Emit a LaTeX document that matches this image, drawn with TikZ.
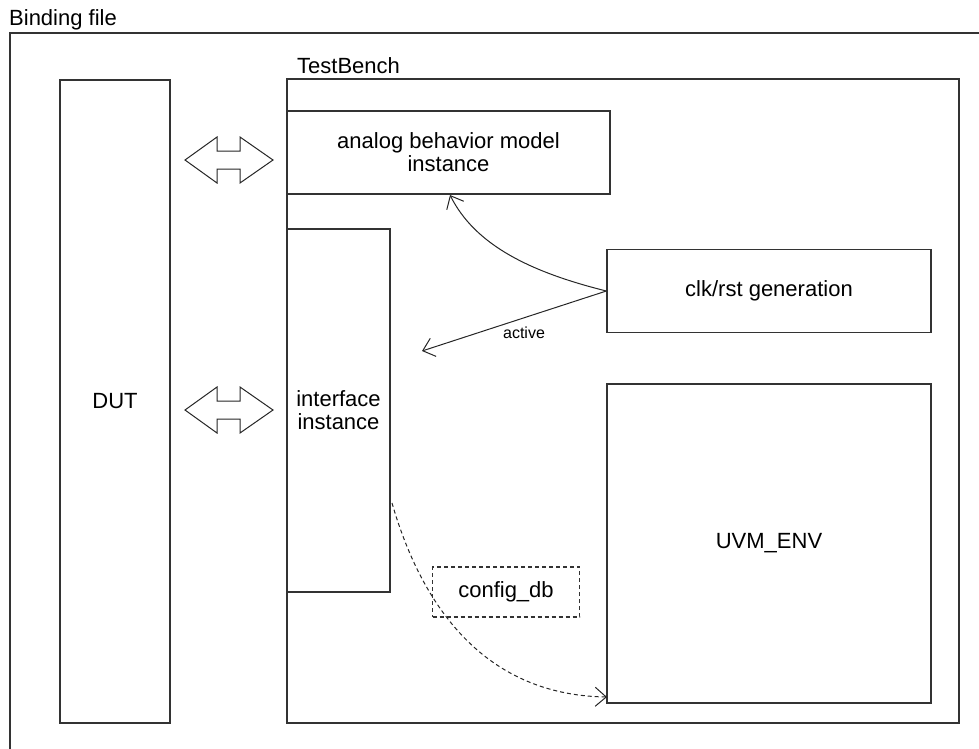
\documentclass[tikz,border=0pt]{standalone}
\usepackage{fontspec}
\setmainfont{Liberation Sans}
\usetikzlibrary{arrows.meta}
\tikzset{
  ln/.style={line width=1.3pt, draw=black!80},
  box/.style={ln, rectangle, inner sep=0pt, align=center, font=\fontsize{22}{23}\selectfont},
  dbox/.style={box, dashed, dash pattern=on 4pt off 3pt},
  lbl/.style={inner sep=0pt, font=\fontsize{22}{23}\selectfont},
  dblarrow/.style={line width=1pt, draw=black!85, fill=white},
  conn/.style={line width=1pt, draw=black!85, -{Straight Barb[length=11pt,width=19pt,line width=1pt]}},
}
\begin{document}
\begin{tikzpicture}[x=1pt,y=-1pt]
\useasboundingbox (0,0) rectangle (979,748);
% outer binding file box (cut off at right and bottom)
\draw[ln] (10,760) -- (10,33) -- (990,33);
\node[lbl, anchor=base west] (bind) at (9,25) {Binding file};
% DUT
\node[box, minimum width=110pt, minimum height=643pt] (dut) at (115,401.5) {DUT};
% TestBench
\node[box, minimum width=672pt, minimum height=644pt] (tb) at (623,401) {};
\node[lbl, anchor=base west] (tblbl) at (297,73) {TestBench};
% inner boxes
\node[box, minimum width=323pt, minimum height=83pt] (abm) at (448.5,152.5) {analog behavior model\\instance};
\node[box, minimum width=103pt, minimum height=363pt] (ifc) at (338.5,410.5) {interface\\instance};
\node[box, minimum width=324pt, minimum height=83pt] (clk) at (769,291) {clk/rst generation};
\node[box, minimum width=324pt, minimum height=319pt] (uvm) at (769,543.5) {UVM\_ENV};
\node[dbox, minimum width=147pt, minimum height=50pt] (cdb) at (506,592) {config\_db};
% double arrows
\draw[dblarrow] (185,160) -- (217,137) -- (217,151) -- (240,151) -- (240,137) -- (273,160)
  -- (240,183) -- (240,169) -- (217,169) -- (217,183) -- cycle;
\draw[dblarrow] (185,410) -- (217,387) -- (217,401) -- (240,401) -- (240,387) -- (273,410)
  -- (240,433) -- (240,419) -- (217,419) -- (217,433) -- cycle;
% connectors
\coordinate (clkw) at (clk.west);
\coordinate (abmb) at (450,195);
\coordinate (actend) at (422,351);
\draw[conn] (clkw) .. controls (530,272) and (475,245) .. (abmb);
\draw[conn] (clkw) -- (actend);
\node[inner sep=0pt, anchor=base, font=\fontsize{16}{16}\selectfont] (act) at (524,338) {active};
\coordinate (ifcs) at (392,503);
\coordinate (uvmw) at (607,697);
\draw[conn, dashed, dash pattern=on 4pt off 3pt] (ifcs) .. controls (420,600) and (480,695) .. (uvmw);
\end{tikzpicture}
\end{document}
